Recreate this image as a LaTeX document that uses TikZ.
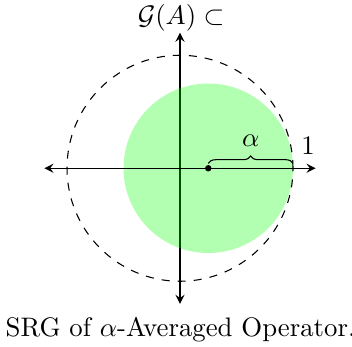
\documentclass[tikz,border=0pt]{standalone}
\usetikzlibrary{decorations.pathreplacing,arrows}
\begin{document}
\begin{tikzpicture}[x=42.2pt,y=42.2pt,
  axis/.style={stealth-stealth, line width=0.5pt},
  disk/.style={fill=green, fill opacity=0.3},
  unitcirc/.style={dashed, line width=0.4pt}]
\useasboundingbox (-1.593,-1.573) rectangle (1.522,1.489);
\coordinate (O) at (0,0);
\coordinate (yb) at (0,-1.2);
\coordinate (yt) at (0,1.2);
\coordinate (xl) at (-1.2,0);
\coordinate (xr) at (1.2,0);
\coordinate (c) at (0.25,0);
\coordinate (one) at (1,0);
\draw[axis] (yb) -- (yt);
\fill[disk] (c) circle (0.75);
\draw[axis] (xl) -- (xr);
\draw[unitcirc] (O) circle (1);
\draw[decorate, decoration={brace, amplitude=2.8pt, raise=1.8pt}] (c) -- (one)
  node[midway, above=4.5pt] (al) {$\alpha$};
\fill (c) circle (1.2pt);
\node[anchor=base] (lone) at (1.133,0.118) {$1$};
\node[anchor=base] (tl) at (0.01,1.268) {$\mathcal{G}(A) \subset$};
\node[anchor=base] (cap) at (0.005,-1.49) {SRG of $\alpha$-Averaged Operator.};
\end{tikzpicture}
\end{document}
